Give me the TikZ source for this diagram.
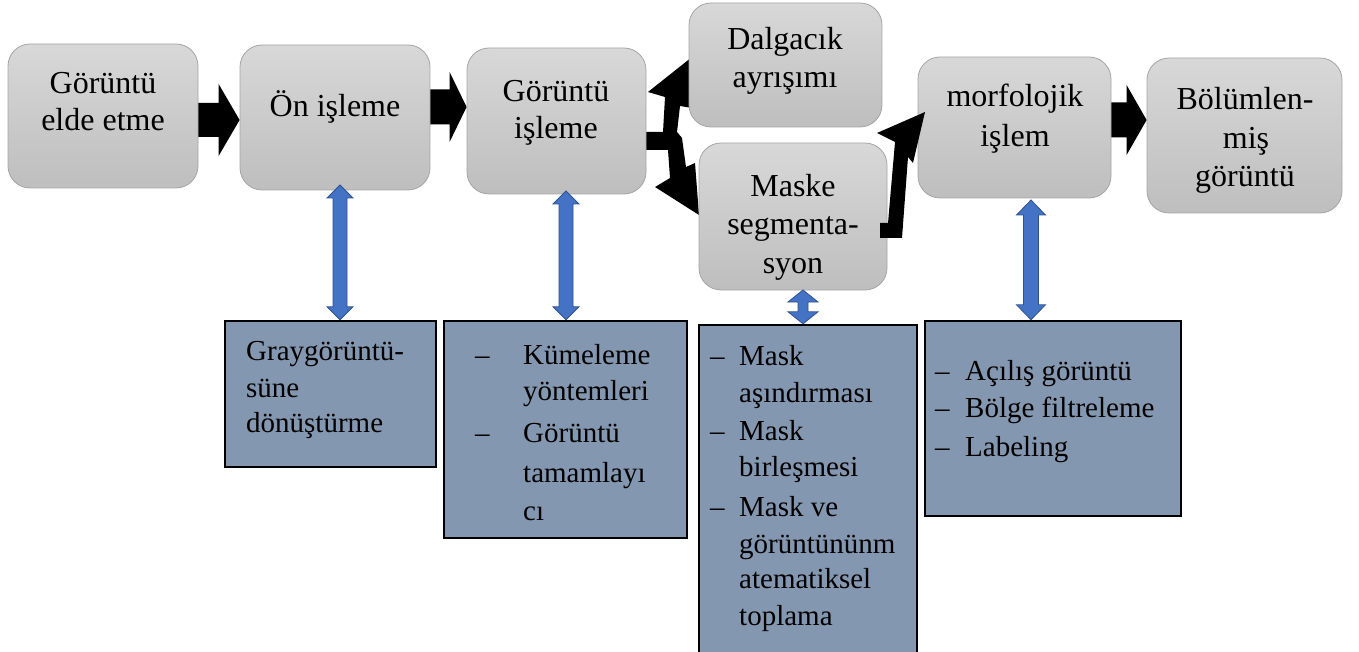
\documentclass[tikz,border=0pt]{standalone}
\usepackage{fontspec}
\setmainfont{Liberation Serif}
\usetikzlibrary{calc}

\definecolor{boxtop}{RGB}{216,216,216}
\definecolor{boxbot}{RGB}{190,190,190}
\definecolor{boxline}{RGB}{165,165,165}
\definecolor{panelfill}{RGB}{132,151,176}
\definecolor{bluefill}{RGB}{68,114,196}
\definecolor{blueline}{RGB}{47,82,143}

\tikzset{
  stagebox/.style={rectangle, rounded corners=22pt, draw=boxline, line width=0.8pt,
    top color=boxtop, bottom color=boxbot, inner sep=0pt},
  panel/.style={rectangle, draw=black, line width=2.4pt, fill=panelfill, inner sep=0pt},
  stagetext/.style={anchor=base, inner sep=0pt, font=\fontsize{32}{38}\selectfont},
  itemtext/.style={anchor=base west, inner sep=0pt, font=\fontsize{29}{36}\selectfont},
  blockarrow/.style={fill=black},
  bluearrow/.style={fill=bluefill, draw=blueline, line width=0.8pt, line join=miter},
}

% horizontal block arrow: tail, tip, shaft half height, head half height, head length
\newcommand{\rblock}[5]{%
  \path[blockarrow] ($(#1)+(0,-#3)$) -- ($(#2)+(-#5,-#3)$) -- ($(#2)+(-#5,-#4)$) -- (#2)
    -- ($(#2)+(-#5,#4)$) -- ($(#2)+(-#5,#3)$) -- ($(#1)+(0,#3)$) -- cycle;}

% vertical double arrow: top tip, bottom tip, head half width, shaft half width, head length
\newcommand{\vdouble}[5]{%
  \path[bluearrow] (#1) -- ($(#1)+(#3,#5)$) -- ($(#1)+(#4,#5)$) -- ($(#2)+(#4,-#5)$)
    -- ($(#2)+(#3,-#5)$) -- (#2) -- ($(#2)+(-#3,-#5)$) -- ($(#2)+(-#4,-#5)$)
    -- ($(#1)+(-#4,#5)$) -- ($(#1)+(-#3,#5)$) -- cycle;}

\begin{document}
\begin{tikzpicture}[x=1pt,y=-1pt]
\useasboundingbox (0,0) rectangle (1359,652);

% fork from the image-processing stage (drawn below the boxes)
\path[blockarrow] (648,92) -- (692,57) -- (692,108) -- (680,106) -- (677,132) -- (682,138)
  -- (686,167) -- (695,163) -- (699,215) -- (655,187) -- (670,178) -- (668,150)
  -- (646,150) -- (646,132) -- (663,132) -- (665,97) -- cycle;

% pipeline stages
\node[stagebox, minimum width=190pt, minimum height=144pt] (b1) at (103,116) {};
\node[stagebox, minimum width=190pt, minimum height=145pt] (b2) at (335,117.5) {};
\node[stagebox, minimum width=179pt, minimum height=146pt] (b3) at (556.5,121) {};
\node[stagebox, minimum width=193pt, minimum height=124pt] (b4) at (785.5,65) {};
\node[stagebox, minimum width=188pt, minimum height=147pt] (b5) at (793,216.5) {};
\node[stagebox, minimum width=193pt, minimum height=141pt] (b6) at (1014.5,127.5) {};
\node[stagebox, minimum width=195pt, minimum height=155pt] (b7) at (1244.5,135.5) {};

\node[stagetext] (b1a) at (103,94) {Görüntü};
\node[stagetext] (b1b) at (103,131) {elde etme};
\node[stagetext] (b2a) at (335,117) {Ön işleme};
\node[stagetext] (b3a) at (556,102) {Görüntü};
\node[stagetext] (b3b) at (556,139) {işleme};
\node[stagetext] (b4a) at (785,50) {Dalgacık};
\node[stagetext] (b4b) at (785,88) {ayrışımı};
\node[stagetext] (b5a) at (793,197) {Maske};
\node[stagetext] (b5b) at (793,235) {segmenta-};
\node[stagetext] (b5c) at (793,273) {syon};
\node[stagetext] (b6a) at (1015,107) {morfolojik};
\node[stagetext] (b6b) at (1015,147) {işlem};
\node[stagetext] (b7a) at (1245,110) {Bölümlen-};
\node[stagetext] (b7b) at (1246,149) {miş};
\node[stagetext] (b7c) at (1245,187) {görüntü};

% detail panels
\node[panel, minimum width=211pt, minimum height=146pt] (pA) at (330.5,394) {};
\node[panel, minimum width=243pt, minimum height=217pt] (pB) at (565.5,429.5) {};
\node[panel, minimum width=218pt, minimum height=330pt] (pC) at (808,490) {};
\node[panel, minimum width=256pt, minimum height=195pt] (pD) at (1053,418.5) {};

\node[itemtext] (pA1) at (246,360) {Graygörüntü-};
\node[itemtext] (pA2) at (246,397) {süne};
\node[itemtext] (pA3) at (246,432) {dönüştürme};

\node[itemtext] (pB1d) at (475,364) {–};
\node[itemtext] (pB1) at (523,364) {Kümeleme};
\node[itemtext] (pB2) at (523,400) {yöntemleri};
\node[itemtext] (pB3d) at (475,442) {–};
\node[itemtext] (pB3) at (523,442) {Görüntü};
\node[itemtext] (pB4) at (523,482) {tamamlayı};
\node[itemtext] (pB5) at (523,520) {cı};

\node[itemtext] (pC1d) at (710,365) {–};
\node[itemtext] (pC1) at (739,365) {Mask};
\node[itemtext] (pC2) at (739,402) {aşındırması};
\node[itemtext] (pC3d) at (710,440) {–};
\node[itemtext] (pC3) at (739,440) {Mask};
\node[itemtext] (pC4) at (739,476) {birleşmesi};
\node[itemtext] (pC5d) at (710,516) {–};
\node[itemtext] (pC5) at (739,516) {Mask ve};
\node[itemtext] (pC6) at (739,553) {görüntününm};
\node[itemtext] (pC7) at (739,588) {atematiksel};
\node[itemtext] (pC8) at (739,625) {toplama};

\node[itemtext] (pD1d) at (935,380) {–};
\node[itemtext] (pD1) at (965,380) {Açılış görüntü};
\node[itemtext] (pD2d) at (935,417) {–};
\node[itemtext] (pD2) at (965,417) {Bölge filtreleme};
\node[itemtext] (pD3d) at (935,456) {–};
\node[itemtext] (pD3) at (965,456) {Labeling};

% flow arrows between stages
\coordinate (f1s) at (b1.east |- 0,120);  \coordinate (f1e) at (b2.west |- 0,120);
\coordinate (f2s) at (b2.east |- 0,107);  \coordinate (f2e) at (b3.west |- 0,107);
\coordinate (f3s) at (b6.east |- 0,120);  \coordinate (f3e) at (b7.west |- 0,120);
\rblock{f1s}{f1e}{17}{36}{21}
\rblock{f2s}{f2e}{17.5}{35}{17}
\rblock{f3s}{f3e}{17.5}{35}{20}

% bent arrow from mask segmentation up to the morphology stage
\path[blockarrow] (925,112) -- (913,163) -- (908,157) -- (902,238) -- (880,238) -- (880,223)
  -- (888,223) -- (895,142) -- (877,133) -- cycle;

% links between stages and their detail panels
\coordinate (uA) at (340,185);  \coordinate (dA) at (pA.north -| 340,0);
\coordinate (uB) at (566,191);  \coordinate (dB) at (pB.north -| 566,0);
\coordinate (uC) at (803,290);  \coordinate (dC) at (pC.north -| 803,0);
\coordinate (uD) at (1031,200); \coordinate (dD) at (pD.north -| 1031,0);
\vdouble{uA}{dA}{13}{7}{13}
\vdouble{uB}{dB}{13}{7}{13}
\vdouble{uC}{dC}{15}{5}{12}
\vdouble{uD}{dD}{14.5}{7.5}{15}

\end{tikzpicture}
\end{document}
